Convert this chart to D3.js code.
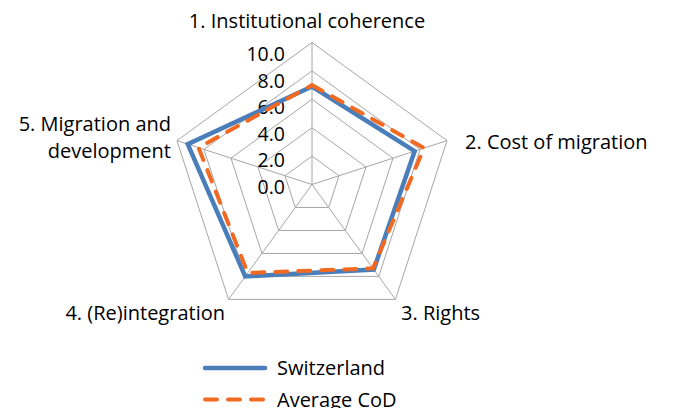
<!DOCTYPE html>
<html>
<head>
<meta charset="utf-8">
<script src="https://cdn.jsdelivr.net/npm/d3@7"></script>
<style>
  body { margin: 0; background: #fff; }
  svg { display: block; font-family: "Open Sans", sans-serif; }
</style>
</head>
<body>
<script>
const axesLabels = ["1. Institutional coherence", "2. Cost of migration", "3. Rights", "4. (Re)integration", "5. Migration and development"];
const switzerland = [6.9, 7.6, 7.4, 8.0, 9.2];
const averageCoD = [7.0, 8.3, 7.3, 7.7, 8.4];
const ticks = [0, 2, 4, 6, 8, 10];

const width = 673, height = 408;
const cx = 312, cy = 184.5, R = 142;

const svg = d3.select("body").append("svg")
    .attr("width", width)
    .attr("height", height);

const r = d3.scaleLinear().domain([0, 10]).range([0, R]);
const angle = d3.scalePoint().domain(d3.range(5)).range([0, 2 * Math.PI * 4 / 5]);

const pt = (i, v) => [cx + r(v) * Math.sin(angle(i)), cy - r(v) * Math.cos(angle(i))];

// grid rings
const grid = svg.append("g").attr("fill", "none").attr("stroke", "#a6a6a6").attr("stroke-width", 1);
ticks.slice(1).forEach(t => {
    grid.append("path")
        .attr("d", d3.line()(d3.range(5).map(i => pt(i, t))) + "Z");
});
d3.range(5).forEach(i => {
    grid.append("line")
        .attr("x1", cx).attr("y1", cy)
        .attr("x2", pt(i, 10)[0]).attr("y2", pt(i, 10)[1]);
});

// tick labels
const tickY = d3.scaleLinear().domain([0, 10]).range([cy + 2.3, cy + 2.3 - r(10) * 0.935]);
svg.append("g")
    .attr("text-anchor", "end")
    .style("font-size", "19.5px")
    .attr("fill", "#000")
    .selectAll("text")
    .data(ticks)
    .join("text")
    .attr("x", 285)
    .attr("y", d => tickY(d))
    .attr("dy", "0.36em")
    .text(d => d3.format(".1f")(d));

// series
const series = [
    {name: "Switzerland", values: switzerland, color: "#4a7ebb", width: 4.5, dash: null},
    {name: "Average CoD", values: averageCoD, color: "#f26a21", width: 4, dash: "12,11"}
];

series.forEach(s => {
    svg.append("path")
        .attr("d", d3.line()(s.values.map((v, i) => pt(i, v))) + "Z")
        .attr("fill", "none")
        .attr("stroke", s.color)
        .attr("stroke-width", s.width)
        .attr("stroke-linejoin", "miter")
        .attr("stroke-linecap", s.dash ? "round" : "butt")
        .attr("stroke-dasharray", s.dash);
});

// axis labels
const lab = svg.append("g").style("font-size", "20px").attr("fill", "#000");
lab.append("text").attr("x", 307).attr("y", 28).attr("text-anchor", "middle").text(axesLabels[0]);
lab.append("text").attr("x", 465).attr("y", 148.5).attr("text-anchor", "start").text(axesLabels[1]);
lab.append("text").attr("x", 401).attr("y", 319.5).attr("text-anchor", "start").text(axesLabels[2]);
lab.append("text").attr("x", 225).attr("y", 319.5).attr("text-anchor", "end").text(axesLabels[3]);
const l5 = lab.append("text").attr("text-anchor", "end");
l5.append("tspan").attr("x", 171).attr("y", 131).text("5. Migration and");
l5.append("tspan").attr("x", 171).attr("y", 157.5).text("development");

// legend
const legend = svg.append("g")
    .selectAll("g")
    .data(series)
    .join("g")
    .attr("transform", (d, i) => `translate(203,${368 + i * 31.5})`);
legend.append("line")
    .attr("x1", 2).attr("x2", 62)
    .attr("stroke", d => d.color)
    .attr("stroke-width", d => d.width)
    .attr("stroke-linecap", "round")
    .attr("stroke-dasharray", d => d.dash);
legend.append("text")
    .attr("x", 74)
    .attr("dy", "0.36em")
    .style("font-size", "20px")
    .text(d => d.name);
</script>
</body>
</html>
